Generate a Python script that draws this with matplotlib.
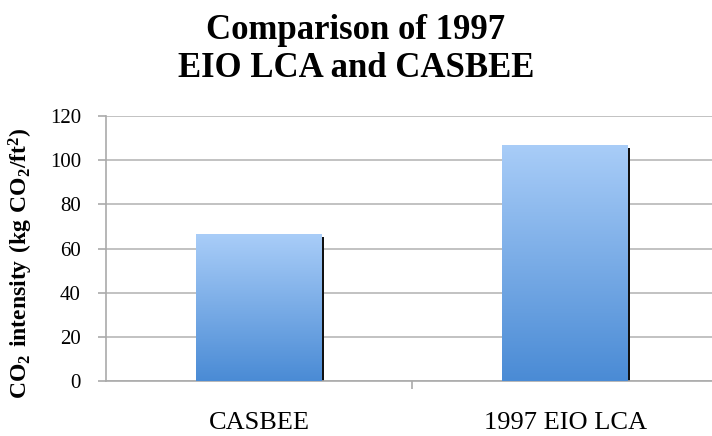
import numpy as np
import matplotlib.pyplot as plt

categories = ['CASBEE', '1997 EIO LCA']
values = [66.5, 107]
yticks = [0, 20, 40, 60, 80, 100, 120]

plt.rcParams['font.family'] = ['Liberation Serif', 'DejaVu Serif']
plt.rcParams['mathtext.fontset'] = 'custom'
plt.rcParams['mathtext.rm'] = 'Liberation Serif'
plt.rcParams['mathtext.bf'] = 'Liberation Serif:bold'

fig = plt.figure(figsize=(7.12, 4.36), dpi=100)
ax = fig.add_axes([106/712, 55/436, 606/712, 265/436])

x = np.arange(len(categories))
bw = 0.41

# gradient colour, light on top, darker at bottom
grad = np.linspace(0, 1, 256).reshape(-1, 1)
cmap = plt.matplotlib.colors.LinearSegmentedColormap.from_list('b', ['#4a8bd5', '#a9cdf8'])

for xi, v in zip(x, values):
    # drop shadow on the right edge
    ax.bar(xi + bw/2 + 0.004, v - 1.5, width=0.009, color='#111111', zorder=2)
    b = ax.bar(xi, v, width=bw, color='none', zorder=3)[0]
    im = ax.imshow(grad, cmap=cmap, origin='lower', aspect='auto',
                   extent=[xi - bw/2, xi + bw/2, 0, v], zorder=3)
    im.set_clip_path(b)

ax.set_xlim(-0.5, -0.5 + 606/306)
ax.set_ylim(0, 120)
ax.set_yticks(yticks)
ax.set_yticklabels([str(t) for t in yticks], fontsize=15)
ax.set_xticks(x)
ax.set_xticklabels(categories, fontsize=19)
ax.tick_params(axis='x', length=0, pad=22)
ax.tick_params(axis='y', length=6, color='#aaaaaa', width=1.2, pad=12)
ax.set_xticks([0.5], minor=True)
ax.tick_params(axis='x', which='minor', length=6, color='#aaaaaa', width=1.2)

ax.grid(axis='y', color='#b8b8b8', linewidth=1.2, zorder=0)
ax.set_axisbelow(True)
for s in ['top', 'right']:
    ax.spines[s].set_visible(False)
ax.spines['left'].set_color('#aaaaaa')
ax.spines['bottom'].set_color('#aaaaaa')
ax.spines['left'].set_linewidth(1.2)
ax.spines['bottom'].set_linewidth(1.2)

ax.set_ylabel(r'$\mathbf{CO_2\ intensity\ (kg\ CO_2/ft^2)}$', fontsize=17)
ax.yaxis.set_label_coords(-0.117, 0.445)

fig.text(0.5, 1 - 39/436, 'Comparison of 1997', ha='center', va='baseline', fontsize=25, fontweight='bold')
fig.text(0.5, 1 - 77/436, 'EIO LCA and CASBEE', ha='center', va='baseline', fontsize=25, fontweight='bold')

fig.savefig('out.png', dpi=100)
